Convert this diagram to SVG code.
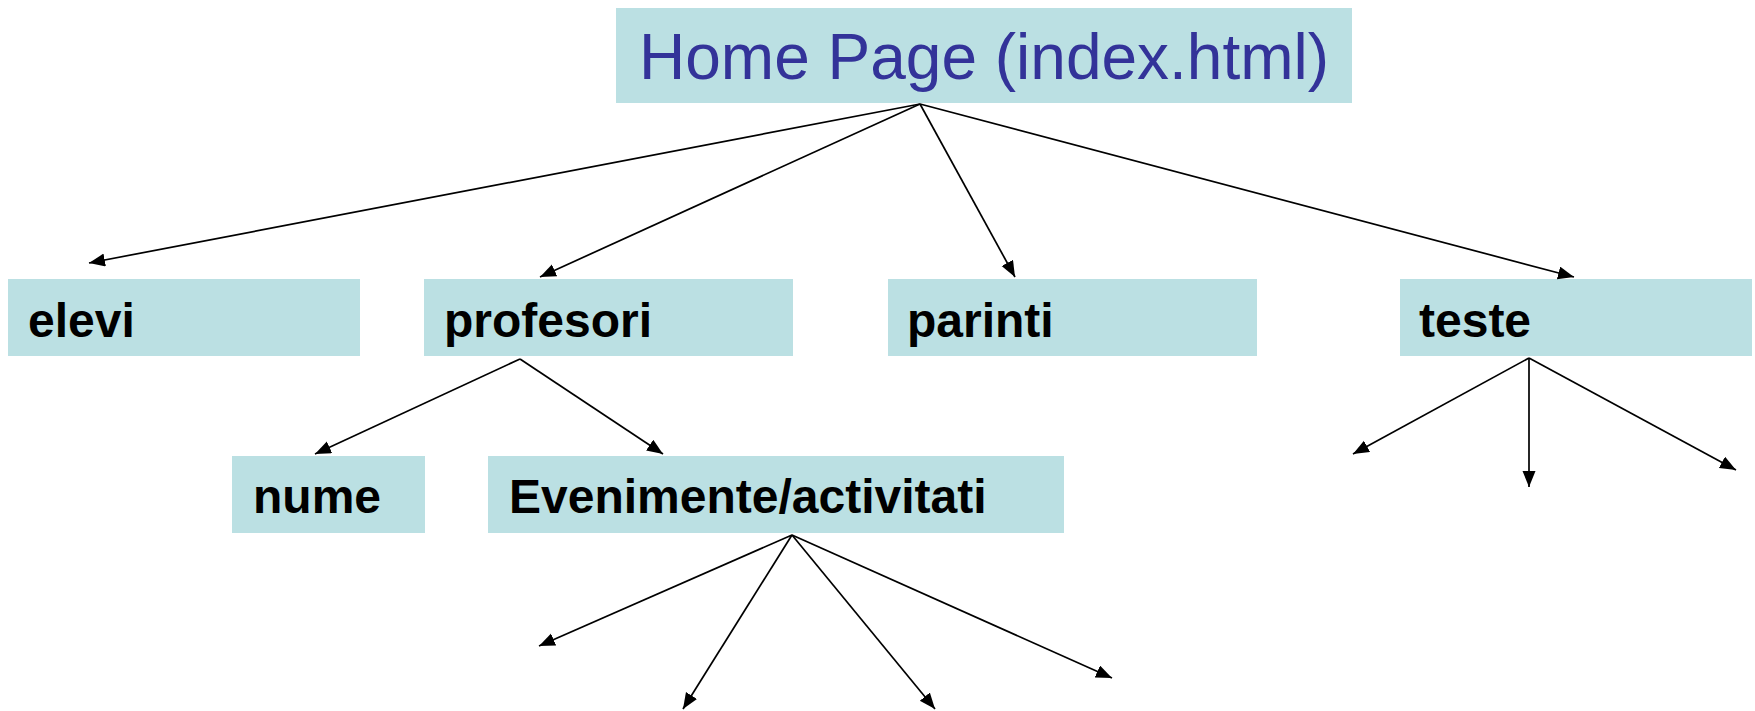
<svg xmlns="http://www.w3.org/2000/svg" width="1755" height="711" viewBox="0 0 1755 711">
<style>
.box{fill:#bbe0e3}
.lbl{font-family:"Liberation Sans",Arial,sans-serif;font-weight:bold;font-size:48px;fill:#000}
.title{font-family:"Liberation Sans",Arial,sans-serif;font-size:64px;fill:#333399}
.conn line{stroke:#000;stroke-width:1.7;marker-end:url(#ah)}
</style>
<defs>
<marker id="ah" markerUnits="userSpaceOnUse" markerWidth="17" markerHeight="14" refX="16" refY="6.5" orient="auto">
<path d="M0,0 L16,6.5 L0,13 z" fill="#000"/>
</marker>
</defs>
<rect width="1755" height="711" fill="#fff"/>
<g id="home"><rect class="box" x="616" y="8" width="736" height="95"/><text class="title" x="639" y="79">Home Page (index.html)</text></g>
<g id="elevi"><rect class="box" x="8" y="279" width="352" height="77"/><text class="lbl" x="28" y="337">elevi</text></g>
<g id="profesori"><rect class="box" x="424" y="279" width="369" height="77"/><text class="lbl" x="444" y="337">profesori</text></g>
<g id="parinti"><rect class="box" x="888" y="279" width="369" height="77"/><text class="lbl" x="907" y="337">parinti</text></g>
<g id="teste"><rect class="box" x="1400" y="279" width="352" height="77"/><text class="lbl" x="1419" y="337">teste</text></g>
<g id="nume"><rect class="box" x="232" y="456" width="193" height="77"/><text class="lbl" x="253" y="513">nume</text></g>
<g id="evenimente"><rect class="box" x="488" y="456" width="576" height="77"/><text class="lbl" x="509" y="513">Evenimente/activitati</text></g>
<g id="connectors" class="conn">
<line x1="920" y1="104" x2="89" y2="263"/>
<line x1="920" y1="104" x2="540" y2="277"/>
<line x1="920" y1="104" x2="1015" y2="277"/>
<line x1="920" y1="104" x2="1574" y2="277"/>
<line x1="520" y1="359" x2="315" y2="454"/>
<line x1="520" y1="359" x2="663" y2="454"/>
<line x1="1529" y1="358" x2="1353" y2="454"/>
<line x1="1529" y1="358" x2="1529" y2="487"/>
<line x1="1529" y1="358" x2="1736" y2="470"/>
<line x1="792" y1="535" x2="539" y2="646"/>
<line x1="792" y1="535" x2="683" y2="709"/>
<line x1="792" y1="535" x2="935" y2="709"/>
<line x1="792" y1="535" x2="1112" y2="678"/>
</g>
</svg>
